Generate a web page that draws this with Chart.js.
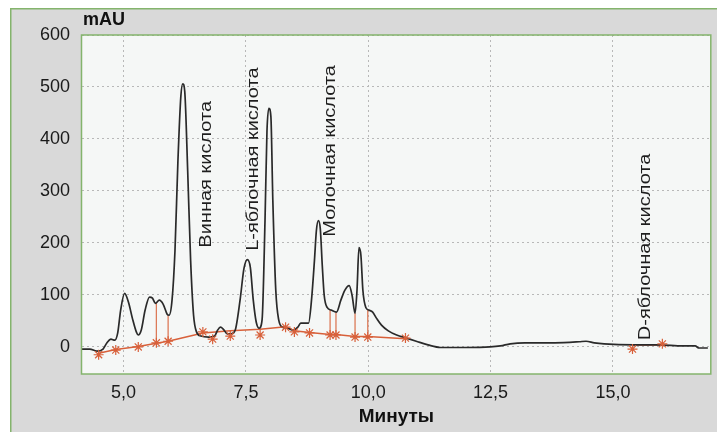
<!DOCTYPE html>
<html><head><meta charset="utf-8">
<script src="https://cdn.jsdelivr.net/npm/chart.js@4/dist/chart.umd.min.js"></script>
<style>html,body{margin:0;padding:0;background:#fff;}#c{position:absolute;left:0;top:0;}</style>
</head><body>
<canvas id="c" width="717" height="432"></canvas>
<script>
// ---- data (minutes, mAU) ----
const times  = [4.15,4.31,4.45,4.58,4.66,4.74,4.82,4.88,4.94,5.02,5.10,5.18,5.26,5.30,5.36,5.44,5.53,5.59,5.65,5.73,5.81,5.89,5.93,5.99,6.05,6.11,6.17,6.21,6.25,6.31,6.37,6.43,6.49,6.58,6.74,6.86,6.92,6.98,7.04,7.12,7.20,7.28,7.38,7.46,7.53,7.59,7.65,7.71,7.77,7.83,7.89,7.93,7.97,8.01,8.05,8.11,8.17,8.25,8.35,8.47,8.56,8.62,8.78,8.84,8.90,8.94,8.98,9.02,9.06,9.10,9.16,9.24,9.35,9.44,9.52,9.61,9.67,9.73,9.77,9.81,9.85,9.89,9.95,10.01,10.09,10.17,10.27,10.41,10.58,10.78,10.98,11.22,11.48,11.99,12.49,12.70,12.90,13.20,13.81,14.31,14.45,14.62,14.82,15.42,15.93,16.43,16.68,16.76,16.94];
const signal = [-4,-4,-8,-4,8,15,13,27,71,103,86,55,29,23,32,71,96,94,84,90,82,63,61,90,185,357,482,506,491,338,166,61,29,21,19,21,32,38,34,25,25,32,90,151,168,153,90,48,36,52,243,415,459,443,281,109,52,38,36,32,38,46,46,90,166,224,243,227,157,99,76,71,67,90,109,118,99,65,109,191,176,109,76,71,67,55,42,31,23,17,11,4,-1,-1,0,2,6,8,8,10,11,8,6,4,4,2,2,-2,-2];

const baseX = [4.49,4.84,5.30,5.67,5.91,6.62,7.18,7.79,8.31,8.49,8.80,9.22,9.34,9.73,9.99,10.76];
const baseY = [-12,-5,1,7,11,27,31,34,39,31,28,24,24,20,20,16];
const baseDX = [15.40,16.01];
const baseDY = [4,4];

const starX = [4.49,4.84,5.30,5.67,5.91,6.62,6.82,7.18,7.79,8.31,8.49,8.80,9.22,9.34,9.73,9.99,10.76,15.40,16.01];
const starY = [-15,-6,0,8,11,29,15,21,23,38,29,27,23,23,19,19,17,-4,6];

const dropX    = [5.67,5.91,9.22,9.34,9.73,9.99];
const dropLow  = [8,11,23,23,19,19];
const dropHigh = [84,61,71,67,65,71];

const peakNames = ['Винная кислота','L-яблочная кислота','Молочная кислота','D-яблочная кислота'];
const peakX = [6.70,7.65,9.22,15.67];
const peakY = [191,185,212,13];

const yTicks = [0,100,200,300,400,500,600];
const xTicks = [5,7.5,10,12.5,15];
const xTickLabels = ['5,0','7,5','10,0','12,5','15,0'];

// ---- build datasets ----
const zip = (xs, ys) => xs.map((x, i) => ({x, y: ys[i]}));
const dropPts = [];
dropX.forEach((x, i) => { dropPts.push({x, y: dropLow[i]}, {x, y: dropHigh[i]}, {x, y: null}); });

const GREEN = '#84b46c';
const ORANGE = '#d8603a';

const framePlugin = {
  id: 'frame',
  beforeDraw(chart) {
    const ctx = chart.ctx, a = chart.chartArea;
    ctx.save();
    ctx.fillStyle = '#ffffff';
    ctx.fillRect(0, 0, chart.width, chart.height);
    ctx.fillStyle = '#d9d9d9';
    ctx.fillRect(10, 8, chart.width, chart.height);
    ctx.strokeStyle = GREEN; ctx.lineWidth = 1.5;
    ctx.strokeRect(10.75, 8.75, chart.width + 10, chart.height + 10);
    ctx.fillStyle = '#f5f7f6';
    ctx.fillRect(a.left, a.top, a.right - a.left, a.bottom - a.top);
    ctx.restore();
  },
  afterDatasetsDraw(chart) {
    const ctx = chart.ctx, xs = chart.scales.x, ys = chart.scales.y;
    ctx.save();
    ctx.fillStyle = '#1e1e1e';
    ctx.font = '20px "Liberation Sans", Arial, sans-serif';
    ctx.textAlign = 'left';
    ctx.textBaseline = 'middle';
    peakNames.forEach((t, i) => {
      const px = xs.getPixelForValue(peakX[i]);
      const py = ys.getPixelForValue(peakY[i]);
      ctx.save();
      ctx.translate(px, py);
      ctx.scale(0.82, 1);
      ctx.rotate(-Math.PI / 2);
      ctx.fillText(t, 0, 0);
      ctx.restore();
    });
    ctx.restore();
  },
  afterDraw(chart) {
    const ctx = chart.ctx, a = chart.chartArea;
    ctx.save();
    ctx.strokeStyle = GREEN; ctx.lineWidth = 1.5;
    ctx.strokeRect(a.left - 0.5, a.top, a.right - a.left + 0.5, a.bottom - a.top);
    ctx.fillStyle = '#111';
    ctx.font = 'bold 18px "Liberation Sans", Arial, sans-serif';
    ctx.textAlign = 'left'; ctx.textBaseline = 'middle';
    ctx.fillText('mAU', a.left + 1, 20);
    ctx.restore();
  }
};

new Chart(document.getElementById('c'), {
  type: 'line',
  data: {
    datasets: [
      { label: 'signal', data: zip(times, signal), borderColor: '#2a2a2a', borderWidth: 1.7, pointRadius: 0, cubicInterpolationMode: 'monotone', order: 1 },
      { label: 'baseline', data: zip(baseX, baseY), borderColor: ORANGE, borderWidth: 1.5, pointRadius: 0, tension: 0, order: 2 },
      { label: 'baselineD', data: zip(baseDX, baseDY), borderColor: ORANGE, borderWidth: 1.5, pointRadius: 0, order: 2 },
      { label: 'drops', data: dropPts, borderColor: '#dc7a58', borderWidth: 1.3, pointRadius: 0, spanGaps: false, order: 3 },
      { label: 'marks', data: zip(starX, starY), showLine: false, pointStyle: 'star', pointRadius: 5, borderColor: ORANGE, borderWidth: 1.2, backgroundColor: ORANGE, order: 0 }
    ]
  },
  options: {
    responsive: false,
    devicePixelRatio: 1,
    animation: false,
    events: [],
    layout: { padding: { top: 35, right: 2, left: 0, bottom: 0 } },
    plugins: { legend: { display: false }, tooltip: { enabled: false } },
    scales: {
      x: {
        type: 'linear', min: 4.15, max: 17,
        afterBuildTicks: s => { s.ticks = xTicks.map(v => ({value: v})); },
        afterFit: s => { s.height = 58; },
        grid: { color: '#b8b8b8', lineWidth: 1, drawTicks: false },
        border: { display: false, dash: [2, 3] },
        ticks: { padding: 8, color: '#1a1a1a', font: { size: 18, family: '"Liberation Sans", Arial, sans-serif' },
                 callback: v => xTickLabels[xTicks.indexOf(v)] },
        title: { display: true, text: 'Минуты', color: '#111', padding: { top: 0, bottom: 4 },
                 font: { size: 19, weight: 'bold', family: '"Liberation Sans", Arial, sans-serif' } }
      },
      y: {
        type: 'linear', min: -52, max: 600,
        afterBuildTicks: s => { s.ticks = yTicks.map(v => ({value: v})); },
        afterFit: s => { s.width = 82; },
        grid: { color: '#b8b8b8', lineWidth: 1, drawTicks: false },
        border: { display: false, dash: [2, 3] },
        ticks: { padding: 12, color: '#1a1a1a', font: { size: 18, family: '"Liberation Sans", Arial, sans-serif' } }
      }
    }
  },
  plugins: [framePlugin]
});
</script>
</body></html>
